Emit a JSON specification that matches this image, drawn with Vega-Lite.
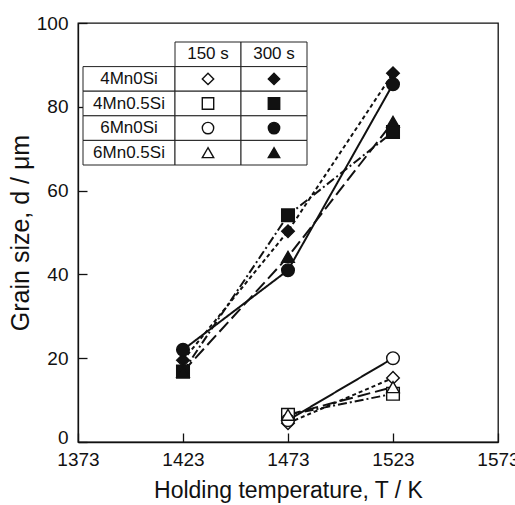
{
  "$schema": "https://vega.github.io/schema/vega-lite/v6.json",
  "width": 420,
  "height": 419,
  "autosize": "none",
  "padding": {"left": 78, "top": 23, "right": 17, "bottom": 63},
  "background": "white",
  "config": {
    "view": {"stroke": "#111", "strokeWidth": 1.3},
    "font": "Liberation Sans",
    "axis": {
      "domainColor": "#111",
      "domainWidth": 1.3,
      "tickColor": "#111",
      "tickWidth": 1.3,
      "tickSize": -9,
      "labelPadding": 19,
      "labelFont": "Liberation Sans",
      "labelFontSize": 19,
      "labelColor": "#111",
      "titleFont": "Liberation Sans",
      "titleFontSize": 23,
      "titleFontWeight": "normal",
      "titleColor": "#111",
      "grid": false,
      "labelFlush": false
    },
    "text": {"font": "Liberation Sans", "fontSize": 17, "color": "#111"}
  },
  "datasets": {
    "grain": [
      {"alloy": "4Mn0Si", "time": "300 s", "T": 1423, "d": 19.5},
      {"alloy": "4Mn0Si", "time": "300 s", "T": 1473, "d": 50.3},
      {"alloy": "4Mn0Si", "time": "300 s", "T": 1523, "d": 88},
      {"alloy": "4Mn0.5Si", "time": "300 s", "T": 1423, "d": 16.8},
      {"alloy": "4Mn0.5Si", "time": "300 s", "T": 1473, "d": 54.1},
      {"alloy": "4Mn0.5Si", "time": "300 s", "T": 1523, "d": 74},
      {"alloy": "6Mn0Si", "time": "300 s", "T": 1423, "d": 22},
      {"alloy": "6Mn0Si", "time": "300 s", "T": 1473, "d": 41},
      {"alloy": "6Mn0Si", "time": "300 s", "T": 1523, "d": 85.4},
      {"alloy": "6Mn0.5Si", "time": "300 s", "T": 1423, "d": 16.8},
      {"alloy": "6Mn0.5Si", "time": "300 s", "T": 1473, "d": 44.2},
      {"alloy": "6Mn0.5Si", "time": "300 s", "T": 1523, "d": 76.4},
      {"alloy": "4Mn0Si", "time": "150 s", "T": 1473, "d": 4.5},
      {"alloy": "4Mn0Si", "time": "150 s", "T": 1523, "d": 15.3},
      {"alloy": "4Mn0.5Si", "time": "150 s", "T": 1473, "d": 6.5},
      {"alloy": "4Mn0.5Si", "time": "150 s", "T": 1523, "d": 11.5},
      {"alloy": "6Mn0Si", "time": "150 s", "T": 1473, "d": 5.2},
      {"alloy": "6Mn0Si", "time": "150 s", "T": 1523, "d": 20},
      {"alloy": "6Mn0.5Si", "time": "150 s", "T": 1473, "d": 6.5},
      {"alloy": "6Mn0.5Si", "time": "150 s", "T": 1523, "d": 13.1}
    ],
    "table": [
      {"part": "name", "alloy": "4Mn0Si"},
      {"part": "name", "alloy": "4Mn0.5Si"},
      {"part": "name", "alloy": "6Mn0Si"},
      {"part": "name", "alloy": "6Mn0.5Si"},
      {"part": "cell", "alloy": "hdr", "time": "150 s"},
      {"part": "cell", "alloy": "hdr", "time": "300 s"},
      {"part": "cell", "alloy": "4Mn0Si", "time": "150 s"},
      {"part": "cell", "alloy": "4Mn0Si", "time": "300 s"},
      {"part": "cell", "alloy": "4Mn0.5Si", "time": "150 s"},
      {"part": "cell", "alloy": "4Mn0.5Si", "time": "300 s"},
      {"part": "cell", "alloy": "6Mn0Si", "time": "150 s"},
      {"part": "cell", "alloy": "6Mn0Si", "time": "300 s"},
      {"part": "cell", "alloy": "6Mn0.5Si", "time": "150 s"},
      {"part": "cell", "alloy": "6Mn0.5Si", "time": "300 s"}
    ]
  },
  "layer": [
    {
      "data": {"name": "grain"},
      "encoding": {
        "x": {
          "field": "T", "type": "quantitative",
          "scale": {"domain": [1373, 1573], "nice": false, "zero": false},
          "axis": {"values": [1373, 1423, 1473, 1523, 1573], "format": "d", "title": "Holding temperature, T / K", "titlePadding": 10, "labelPadding": 17}
        },
        "y": {
          "field": "d", "type": "quantitative",
          "scale": {"domain": [0, 100], "nice": false},
          "axis": {
            "values": [0, 20, 40, 60, 80, 100],
            "title": "Grain size, d / μm",
            "titlePadding": 3,
            "titleFontSize": 25,
            "labelOffset": {"condition": {"test": "datum.value === 0", "value": -5}, "value": 0}
          }
        }
      },
      "layer": [
        {
          "mark": {"type": "line", "color": "#111", "strokeWidth": 2},
          "encoding": {
            "detail": {"field": "time", "type": "nominal"},
            "strokeDash": {
              "field": "alloy", "type": "nominal",
              "scale": {"domain": ["4Mn0Si", "4Mn0.5Si", "6Mn0Si", "6Mn0.5Si"], "range": [[4, 3], [9, 3, 2, 3], [1, 0], [13, 5]]},
              "legend": null
            }
          }
        },
        {
          "mark": {"type": "point", "filled": true, "stroke": "#111", "strokeWidth": 1.4, "size": 160, "opacity": 1},
          "encoding": {
            "shape": {
              "field": "alloy", "type": "nominal",
              "scale": {"domain": ["4Mn0Si", "4Mn0.5Si", "6Mn0Si", "6Mn0.5Si"], "range": ["diamond", "square", "circle", "triangle-up"]},
              "legend": null
            },
            "fill": {
              "field": "time", "type": "nominal",
              "scale": {"domain": ["150 s", "300 s"], "range": ["white", "#111"]},
              "legend": null
            }
          }
        }
      ]
    },
    {
      "data": {"name": "table"},
      "encoding": {
        "y": {
          "field": "alloy", "type": "nominal",
          "scale": {"domain": ["hdr", "4Mn0Si", "4Mn0.5Si", "6Mn0Si", "6Mn0.5Si"], "range": [19, 142], "paddingInner": 0, "paddingOuter": 0},
          "axis": null
        }
      },
      "layer": [
        {
          "transform": [{"filter": "datum.part === 'name'"}],
          "encoding": {
            "x": {
              "field": "part", "type": "nominal",
              "scale": {"domain": ["name"], "range": [5, 97], "paddingInner": 0, "paddingOuter": 0},
              "axis": null
            }
          },
          "layer": [
            {"mark": {"type": "rect", "fill": "white", "stroke": "#222", "strokeWidth": 1}},
            {"mark": {"type": "text"}, "encoding": {"text": {"field": "alloy"}}}
          ]
        },
        {
          "transform": [{"filter": "datum.part === 'cell'"}],
          "encoding": {
            "x": {
              "field": "time", "type": "nominal",
              "scale": {"domain": ["150 s", "300 s"], "range": [97, 229], "paddingInner": 0, "paddingOuter": 0},
              "axis": null
            }
          },
          "layer": [
            {"mark": {"type": "rect", "fill": "white", "stroke": "#222", "strokeWidth": 1}},
            {
              "transform": [{"filter": "datum.alloy === 'hdr'"}],
              "mark": {"type": "text"},
              "encoding": {"text": {"field": "time"}}
            },
            {
              "transform": [{"filter": "datum.alloy !== 'hdr'"}],
              "mark": {"type": "point", "filled": true, "stroke": "#111", "strokeWidth": 1.4, "size": 130, "opacity": 1},
              "encoding": {
                "shape": {"field": "alloy", "type": "nominal", "legend": null},
                "fill": {"field": "time", "type": "nominal", "legend": null}
              }
            }
          ]
        }
      ],
      "resolve": {"scale": {"x": "independent"}}
    }
  ],
  "resolve": {"scale": {"x": "independent", "y": "independent"}}
}
